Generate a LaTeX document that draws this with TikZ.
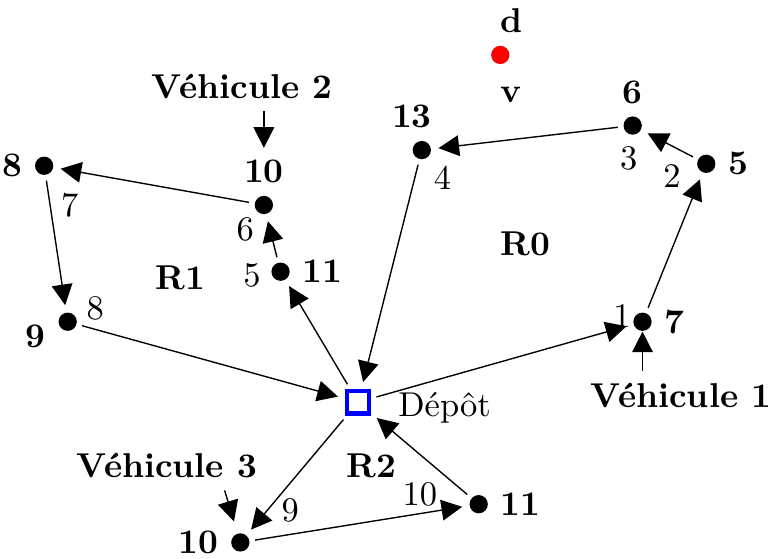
\documentclass[tikz,border=0pt]{standalone}
\usetikzlibrary{arrows.meta}
\begin{document}
\begin{tikzpicture}[
  >={Triangle[length=6pt,width=6pt]},
  dot/.style={circle, fill=black, inner sep=0pt, minimum size=5.3pt},
  depot/.style={draw=blue, line width=1.2pt, inner sep=0pt, minimum size=6.6pt, fill=white},
  wt/.style={inner sep=1pt},
  nm/.style={font=\bfseries},
  route/.style={->, shorten >=2pt, shorten <=1.5pt},
]
\useasboundingbox (0,0) rectangle (7.87,5.69);
% depot and customers
\node[depot, label={[label distance=0.15cm, yshift=-0.06cm]right:{D\'ep\^ot}}] (dep) at (3.65,1.59) {};
\node[dot, label={[xshift=-0.1cm]above:\textbf{13}}] (n13) at (4.30,4.16) {};
\node[dot, label=above:\textbf{6}] (n6) at (6.45,4.41) {};
\node[dot, label=right:\textbf{5}] (n5) at (7.20,4.02) {};
\node[dot, label=right:\textbf{7}] (n7) at (6.55,2.41) {};
\node[dot, label=right:\textbf{11}] (n11u) at (2.86,2.92) {};
\node[dot, label={[name=t10u]above:\textbf{10}}] (n10u) at (2.69,3.60) {};
\node[dot, label=left:\textbf{8}] (n8) at (0.45,4.00) {};
\node[dot, label={[yshift=-0.15cm]left:\textbf{9}}] (n9) at (0.69,2.41) {};
\node[dot, label=left:\textbf{10}] (n10l) at (2.45,0.16) {};
\node[dot, label=right:\textbf{11}] (n11l) at (4.88,0.55) {};
\node[dot, fill=red, label={[xshift=0.11cm]above:\textbf{d}},
  label={[xshift=0.11cm, label distance=0.1cm]below:\textbf{v}}] (dv) at (5.10,5.13) {};
% visit order
\node[wt] (w4) at (4.51,3.88) {4};
\node[wt] (w3) at (6.41,4.08) {3};
\node[wt] (w2) at (6.85,3.90) {2};
\node[wt] (w1) at (6.34,2.47) {1};
\node[wt] (w5) at (2.57,2.88) {5};
\node[wt] (w6) at (2.50,3.35) {6};
\node[wt] (w7) at (0.71,3.60) {7};
\node[wt] (w8) at (0.97,2.55) {8};
\node[wt] (w9) at (2.96,0.49) {9};
\node[wt] (w10) at (4.28,0.65) {10};
% routes
\node[nm] (r0) at (5.36,3.20) {R0};
\node[nm] (r1) at (1.84,2.86) {R1};
\node[nm] (r2) at (3.79,0.94) {R2};
% vehicles
\node[nm] (veh1) at (6.94,1.66) {V\'ehicule 1};
\node[nm] (veh2) at (2.47,4.81) {V\'ehicule 2};
\node[nm] (veh3) at (1.70,0.94) {V\'ehicule 3};
% R0
\draw[route] (dep) -- (n7);
\draw[route] (n7) -- (n5);
\draw[route] (n5) -- (n6);
\draw[route] (n6) -- (n13);
\draw[route] (n13) -- (dep);
% R1
\draw[route] (dep) -- (n11u);
\draw[route] (n11u) -- (n10u);
\draw[route] (n10u) -- (n8);
\draw[route] (n8) -- (n9);
\draw[route] (n9) -- (dep);
% R2
\draw[route] (dep) -- (n10l);
\draw[route] (n10l) -- (n11l);
\draw[route] (n11l) -- (dep);
% vehicle starts
\draw[->] (veh1.north -| n7) -- (n7);
\draw[->] (veh2.south -| t10u) -- (t10u);
\draw[->, shorten >=3.5pt] ([xshift=0.59cm]veh3.south) -- (n10l);
\end{tikzpicture}
\end{document}
